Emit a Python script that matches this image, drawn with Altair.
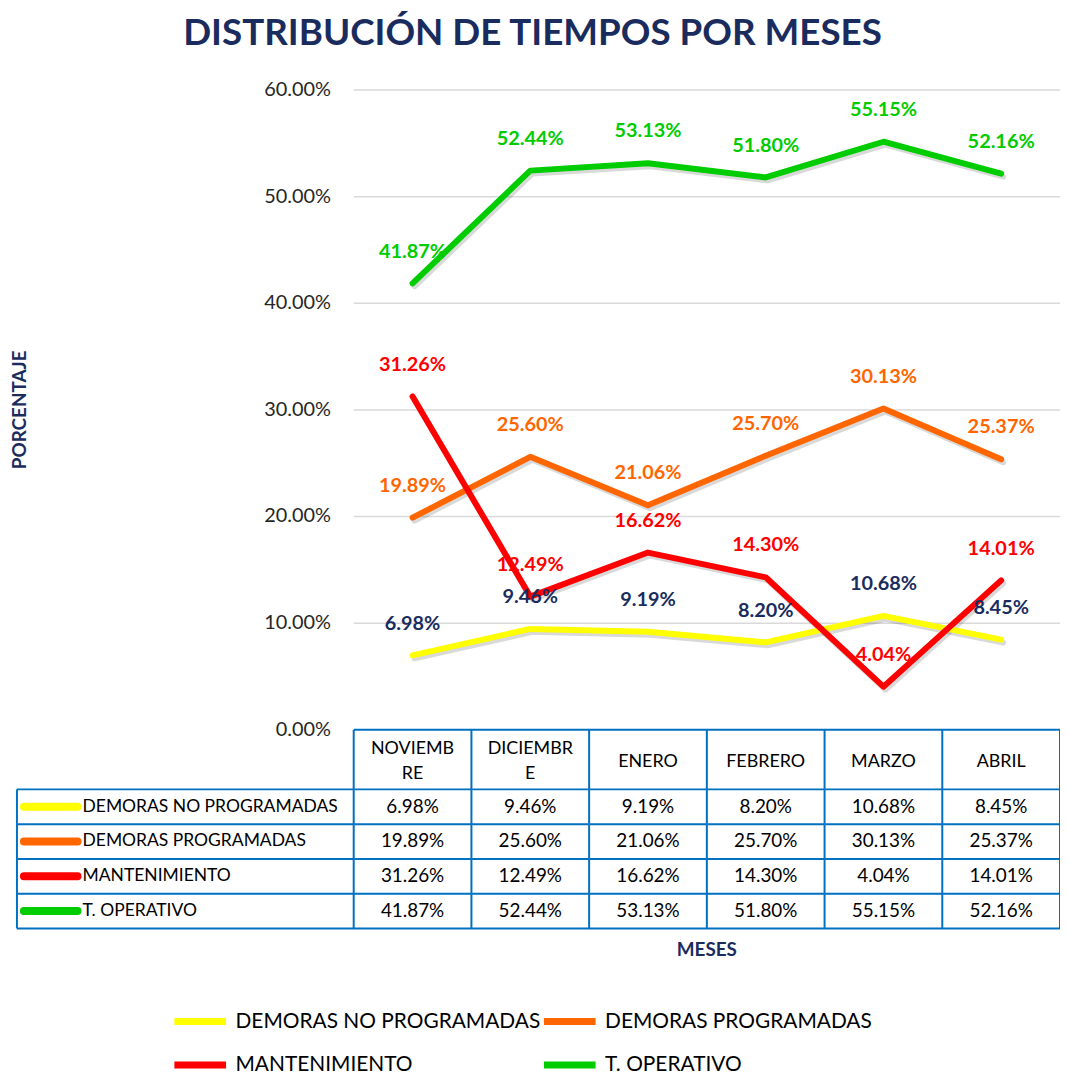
import altair as alt
import pandas as pd

# ---------------- data ----------------
TITLE = "DISTRIBUCIÓN DE TIEMPOS POR MESES"
Y_TITLE = "PORCENTAJE"
X_TITLE = "MESES"
MONTHS = ["NOVIEMBRE", "DICIEMBRE", "ENERO", "FEBRERO", "MARZO", "ABRIL"]
MONTH_HEADERS = ["NOVIEMB\nRE", "DICIEMBR\nE", "ENERO", "FEBRERO", "MARZO", "ABRIL"]
SERIES = ["DEMORAS NO PROGRAMADAS", "DEMORAS PROGRAMADAS", "MANTENIMIENTO", "T. OPERATIVO"]
DEMORAS_NO_PROG = [6.98, 9.46, 9.19, 8.20, 10.68, 8.45]
DEMORAS_PROG = [19.89, 25.60, 21.06, 25.70, 30.13, 25.37]
MANTENIMIENTO = [31.26, 12.49, 16.62, 14.30, 4.04, 14.01]
T_OPERATIVO = [41.87, 52.44, 53.13, 51.80, 55.15, 52.16]
VALUES = [DEMORAS_NO_PROG, DEMORAS_PROG, MANTENIMIENTO, T_OPERATIVO]
Y_TICKS = [0, 10, 20, 30, 40, 50, 60]

LINE_COLORS = ["#FFFF00", "#FF6600", "#FF0000", "#00CC00"]
LABEL_COLORS = ["#1A2C5E", "#FF6600", "#FF0000", "#00CC00"]
NAVY = "#1A2C5E"
TABLE_BLUE = "#0070C0"
FONT = "Lato"

# ---------------- layout ----------------
W = 1050
H_LINES = 644
HEADER_PX = 60
ROW_PX = 35
HEADER_LINE_PX = 25
LABEL_COL_PX = 339
N = len(MONTHS)
COL_PX = (W - LABEL_COL_PX) / N
PXU = H_LINES / (max(Y_TICKS) - min(Y_TICKS))
TABLE_PX = HEADER_PX + ROW_PX * len(SERIES)
H = H_LINES + TABLE_PX
Y_MIN = -TABLE_PX / PXU
Y_MAX = max(Y_TICKS)
X_MIN = -LABEL_COL_PX / COL_PX


def px_x(p):
    return X_MIN + p / COL_PX


def px_y(p):
    return -p / PXU


xs = alt.Scale(domain=[X_MIN, N], nice=False, zero=False)
ys = alt.Scale(domain=[Y_MIN, Y_MAX], nice=False, zero=False)


def X(f):
    return alt.X(f, type="quantitative", scale=xs, axis=None)


def Y(f):
    return alt.Y(f, type="quantitative", scale=ys, axis=None)


rows = []
for s, vals in zip(SERIES, VALUES):
    for i, (m, v) in enumerate(zip(MONTHS, vals)):
        rows.append(dict(series=s, month=m, x=i + 0.5, v=v, label=f"{v:.2f}%"))
df = pd.DataFrame(rows)

color_scale = alt.Scale(domain=SERIES, range=LINE_COLORS)
label_scale = alt.Scale(domain=SERIES, range=LABEL_COLORS)

legend = alt.Legend(
    title=None, orient="none", legendX=155, legendY=908, direction="horizontal",
    columns=2, symbolType="stroke", symbolSize=2704, symbolStrokeWidth=7,
    labelFont=FONT, labelFontSize=21, labelColor="#000000", labelOffset=6,
    columnPadding=-16, rowPadding=-10, padding=0, gridAlign="all", labelLimit=0,
)

layers = []

# title
title_df = pd.DataFrame({"x": [px_x(519)], "y": [Y_MAX + 45 / PXU], "t": [TITLE]})
layers.append(
    alt.Chart(title_df).mark_text(align="center", baseline="alphabetic", font=FONT,
                                  fontSize=37, fontWeight="bold", color=NAVY).encode(
        x=X("x"), y=Y("y"), text="t:N")
)

# gridlines
grid_df = pd.DataFrame({"v": Y_TICKS[1:], "x0": 0, "x1": N})
layers.append(
    alt.Chart(grid_df).mark_rule(color="#D9D9D9", strokeWidth=1.5).encode(
        x=X("x0"), x2="x1", y=Y("v"))
)

# y tick labels
tick_df = pd.DataFrame({"v": Y_TICKS, "x": 0, "t": [f"{t:.2f}%" for t in Y_TICKS]})
layers.append(
    alt.Chart(tick_df).mark_text(align="right", baseline="middle", dx=-23, font=FONT,
                                 fontSize=20, color="#262626").encode(
        x=X("x"), y=Y("v"), text="t:N")
)

# shadows
layers.append(
    alt.Chart(df).mark_line(strokeWidth=6, color="#000000", opacity=0.15, xOffset=2,
                            yOffset=3, strokeCap="round", strokeJoin="round").encode(
        x=X("x"), y=Y("v"), detail="series:N")
)

# lines (one layer per series, drawn in order)
for s in SERIES:
    layers.append(
        alt.Chart(df[df.series == s]).mark_line(strokeWidth=6, strokeCap="round",
                                                 strokeJoin="round").encode(
            x=X("x"), y=Y("v"),
            color=alt.Color("series:N", scale=color_scale, legend=legend, sort=SERIES))
    )

# data labels
layers.append(
    alt.Chart(df).mark_text(dy=-32, baseline="middle", font=FONT, fontSize=20,
                            fontWeight="bold").encode(
        x=X("x"), y=Y("v"), text="label:N",
        fill=alt.Fill("series:N", scale=label_scale, legend=None))
)

# ---------------- data table ----------------
hb = [dict(y=0, x0=0, x1=N)] + [
    dict(y=px_y(HEADER_PX + k * ROW_PX), x0=X_MIN, x1=N) for k in range(len(SERIES) + 1)
]
vb = [dict(x=X_MIN, y0=px_y(HEADER_PX), y1=Y_MIN)] + [
    dict(x=i, y0=0, y1=Y_MIN) for i in range(N + 1)
]
layers.append(
    alt.Chart(pd.DataFrame(hb)).mark_rule(color=TABLE_BLUE, strokeWidth=2).encode(
        x=X("x0"), x2="x1", y=Y("y"))
)
layers.append(
    alt.Chart(pd.DataFrame(vb)).mark_rule(color=TABLE_BLUE, strokeWidth=2).encode(
        x=X("x"), y=Y("y0"), y2="y1")
)

n_lines = [h.count("\n") + 1 for h in MONTH_HEADERS]
head_df = pd.DataFrame({
    "x": [i + 0.5 for i in range(N)],
    "y": [px_y(HEADER_PX / 2 - (n - 1) * HEADER_LINE_PX / 2 + 2) for n in n_lines],
    "t": MONTH_HEADERS,
})
layers.append(
    alt.Chart(head_df).mark_text(lineBreak="\n", lineHeight=HEADER_LINE_PX, baseline="middle",
                                 font=FONT, fontSize=18, color="#000000").encode(
        x=X("x"), y=Y("y"), text="t:N")
)

row_df = pd.DataFrame({
    "series": SERIES,
    "y": [px_y(HEADER_PX + (k + 0.5) * ROW_PX) for k in range(len(SERIES))],
    "xs0": px_x(7), "xs1": px_x(61), "xt": px_x(66),
})
layers.append(
    alt.Chart(row_df).mark_rule(strokeWidth=8, strokeCap="round").encode(
        x=X("xs0"), x2="xs1", y=Y("y"),
        stroke=alt.Stroke("series:N", scale=color_scale, legend=None))
)
layers.append(
    alt.Chart(row_df).mark_text(align="left", baseline="middle", font=FONT, fontSize=17.6,
                                color="#000000").encode(
        x=X("xt"), y=Y("y"), text="series:N")
)

cell_df = df.copy()
cell_df["y"] = [px_y(HEADER_PX + (SERIES.index(s) + 0.5) * ROW_PX) for s in cell_df.series]
layers.append(
    alt.Chart(cell_df).mark_text(baseline="middle", font=FONT, fontSize=19,
                                 color="#000000").encode(
        x=X("x"), y=Y("y"), text="label:N")
)

# axis titles
ytitle_df = pd.DataFrame({"x": [px_x(3)], "y": [(Y_MAX + min(Y_TICKS)) / 2], "t": [Y_TITLE]})
layers.append(
    alt.Chart(ytitle_df).mark_text(angle=270, align="center", baseline="middle", font=FONT,
                                   fontSize=19, fontWeight="bold", color=NAVY).encode(
        x=X("x"), y=Y("y"), text="t:N")
)
xtitle_df = pd.DataFrame({"x": [N / 2], "y": [Y_MIN + px_y(22)], "t": [X_TITLE]})
layers.append(
    alt.Chart(xtitle_df).mark_text(align="center", baseline="middle", font=FONT,
                                   fontSize=19, fontWeight="bold", color=NAVY).encode(
        x=X("x"), y=Y("y"), text="t:N")
)

chart = alt.layer(*layers).properties(
    width=W, height=H,
    autosize=alt.AutoSizeParams(type="none"),
    padding={"left": 9, "top": 79, "right": 0, "bottom": 150},
    background="white",
).configure_view(stroke=None)

chart.save("out.html", embed_options={"renderer": "svg", "actions": False})
